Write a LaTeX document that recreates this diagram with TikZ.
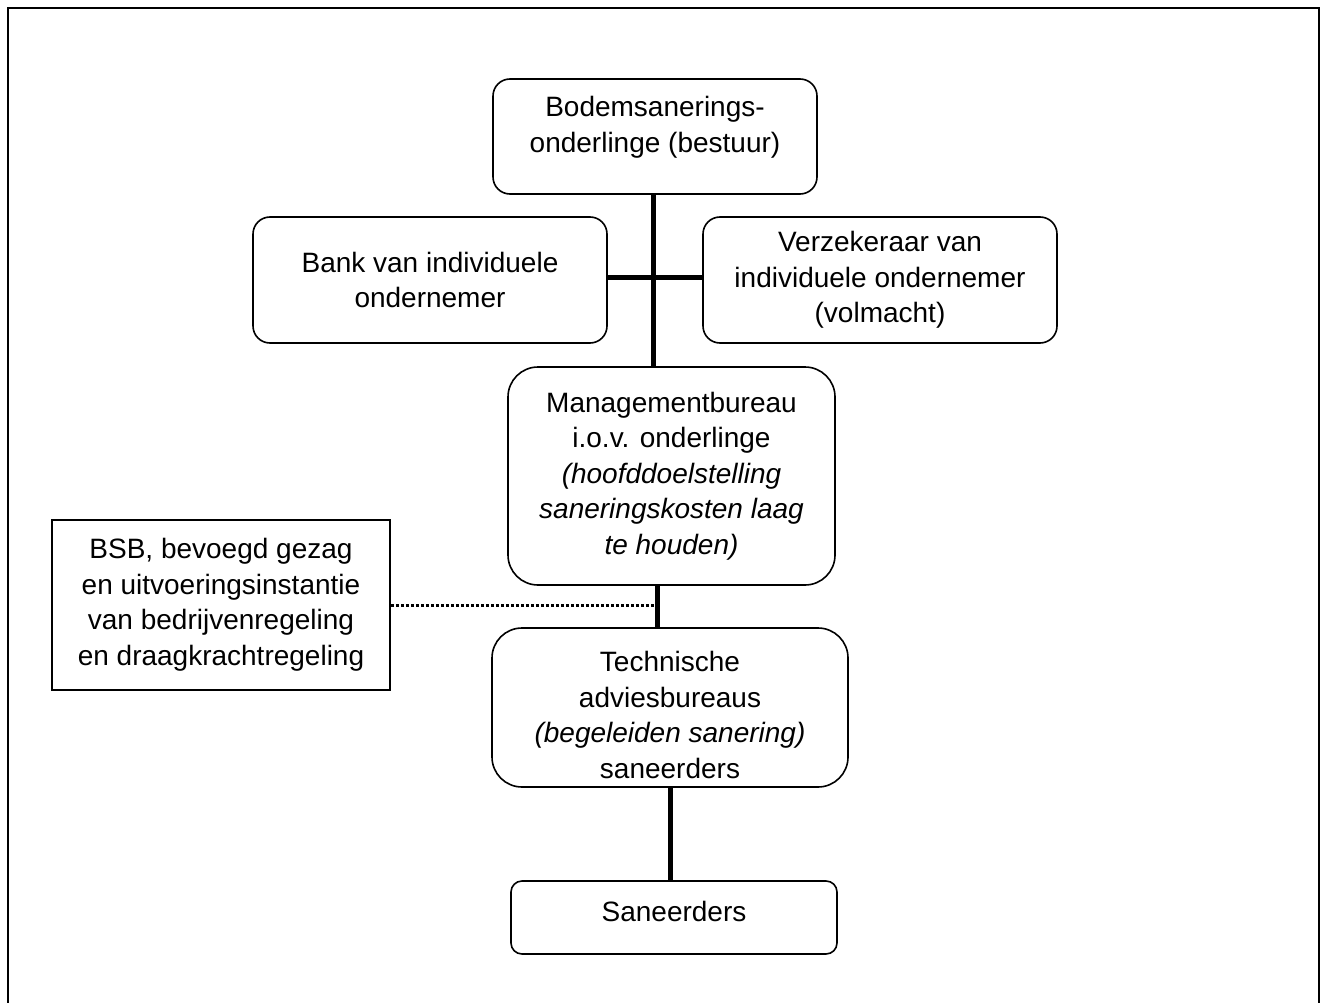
\documentclass[tikz,border=0pt]{standalone}
\usepackage{fontspec}
\setmainfont{Liberation Sans}
\usetikzlibrary{shapes,arrows}
\tikzstyle{block} = [draw, rectangle, line width=1.6pt, rounded corners=17pt,
    align=center, inner sep=0pt, font=\fontsize{28pt}{35.5pt}\selectfont]
\tikzstyle{plainblock} = [draw, rectangle, line width=2.6pt,
    align=center, inner sep=0pt, font=\fontsize{28pt}{35.5pt}\selectfont]
\tikzstyle{link} = [line width=5pt]
\tikzstyle{dotlink} = [line width=3pt, dash pattern=on 3pt off 2pt]

\begin{document}
\begin{tikzpicture}[x=1pt, y=-1pt]
    % page size and the open frame
    \useasboundingbox (0,0) rectangle (1324,1003);
    \draw [line width=2pt] (8,1003) -- (8,8) -- (1319,8) -- (1319,1003);

    % We start by placing the blocks
    \node [block, minimum width=324pt, minimum height=115pt,
            text depth=24pt] (bodem) at (655,136.5)
        {Bodemsanerings-\\onderlinge (bestuur)};
    \node [block, minimum width=354pt, minimum height=126pt] (bank) at (430,280)
        {Bank van individuele\\ondernemer};
    \node [block, minimum width=354pt, minimum height=126pt] (verz) at (880,280)
        {Verzekeraar van\\individuele ondernemer\\(volmacht)};
    \node [block, minimum width=327pt, minimum height=218pt,
            rounded corners=30pt] (mgmt) at (671.5,476)
        {Managementbureau\\i.o.v. onderlinge\\\textit{(hoofddoelstelling}\\
         \textit{saneringskosten laag}\\\textit{te houden)}};
    \node [block, minimum width=356pt, minimum height=159pt,
            rounded corners=30pt, text height=142pt] (tech) at (670,707.5)
        {Technische\\adviesbureaus\\\textit{(begeleiden sanering)}\\saneerders};
    \node [block, minimum width=326pt, minimum height=73pt,
            rounded corners=11pt, text depth=12pt] (san) at (674,917.5) {Saneerders};
    \node [plainblock, minimum width=338pt, minimum height=170pt] (bsb) at (221,605)
        {BSB, bevoegd gezag\\en uitvoeringsinstantie\\van bedrijvenregeling\\
         en draagkrachtregeling};

    % Once the nodes are placed, connecting them is easy.
    \coordinate (mtop) at ([xshift=-14pt]mgmt.south);
    \draw [link] ([xshift=-2pt]bodem.south) -- ([xshift=-2pt]bodem.south |- mgmt.north);
    \draw [link] ([yshift=3pt]bank.east) -- ([yshift=3pt]verz.west);
    \draw [link] (mtop) -- (mtop |- tech.north);
    \draw [dotlink] (bsb.east) -- (bsb.east -| mtop);
    \draw [link] (tech.south) -- (tech.south |- san.north);
\end{tikzpicture}
\end{document}
